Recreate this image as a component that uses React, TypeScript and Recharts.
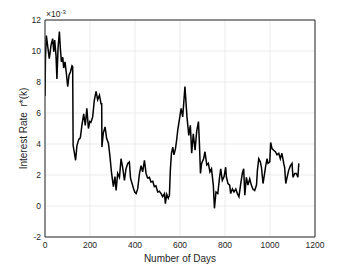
import React from "react";
import {
  LineChart,
  Line,
  XAxis,
  YAxis,
  CartesianGrid,
  ReferenceLine,
} from "recharts";

// days since start, and r*(k) in units of 1e-3
const days = [
  0, 2, 6, 13, 19, 27, 34, 39, 43, 49, 53, 58, 64, 68, 73, 79, 83, 89, 95, 101,
  107, 113, 120, 123, 125, 131, 136, 142, 150, 157, 164, 172, 179, 186, 193, 199,
  204, 212, 219, 227, 234, 242, 249, 252, 253, 259, 267, 274, 282, 289, 296, 304,
  311, 316, 323, 331, 338, 345, 353, 360, 368, 375, 380, 387, 394, 399, 405, 412,
  420, 427, 434, 442, 449, 456, 464, 471, 479, 486, 493, 501, 508, 516, 523, 531,
  535, 541, 548, 553, 557, 562, 568, 573, 580, 585, 590, 605, 612, 622, 631, 639,
  646, 652, 659, 667, 674, 682, 686, 691, 696, 705, 711, 719, 726, 733, 740, 748,
  753, 760, 768, 775, 781, 788, 796, 803, 806, 813, 821, 825, 833, 840, 848, 855,
  862, 870, 877, 883, 888, 895, 902, 910, 917, 924, 932, 940, 944, 950, 957, 962,
  969, 976, 981, 987, 991, 999, 1003, 1009, 1016, 1024, 1031, 1039, 1046, 1053,
  1061, 1065, 1070, 1076, 1083, 1091, 1098, 1102, 1110, 1117, 1124, 1128,
];

const rates = [
  7.1, 9.5, 11.0, 10.2, 9.5, 10.4, 10.8, 9.95, 10.7, 9.7, 8.2, 10.2, 11.25, 10.2,
  9.3, 9.6, 8.9, 9.3, 8.55, 7.7, 8.45, 8.65, 9.05, 9.0, 3.9, 3.4, 2.95, 3.9, 4.3,
  4.4, 5.2, 5.95, 5.2, 6.3, 5.0, 5.45, 5.4, 5.75, 6.8, 7.4, 6.85, 7.15, 6.6, 6.6,
  3.8, 4.7, 5.1, 4.35, 4.05, 3.15, 2.1, 1.25, 1.9, 1.0, 2.1, 1.85, 3.05, 2.5, 1.65,
  2.4, 2.75, 2.85, 1.8, 1.45, 1.1, 0.9, 0.8, 1.1, 2.1, 2.6, 2.2, 2.95, 2.1, 1.8,
  1.85, 1.55, 1.6, 1.25, 1.3, 0.9, 0.95, 0.8, 0.6, 0.8, 0.15, 0.75, 0.5, 0.7, 2.3,
  3.4, 3.8, 3.3, 3.7, 4.25, 4.9, 6.3, 5.75, 7.7, 5.75, 4.55, 5.2, 3.4, 4.65, 3.6,
  4.8, 5.45, 4.15, 2.1, 2.75, 3.05, 3.5, 2.65, 2.75, 2.2, 2.4, 1.35, -0.15, 0.9,
  0.8, 1.75, 2.4, 1.65, 1.9, 2.5, 1.9, 1.45, 1.35, 0.8, 1.1, 0.9, 1.1, 0.8, 0.6,
  1.45, 2.1, 2.4, 0.7, 1.85, 1.35, 1.75, 1.35, 1.1, 1.0, 1.35, 2.3, 3.05, 2.85,
  2.5, 1.45, 2.1, 2.6, 3.05, 2.75, 2.85, 4.1, 3.7, 3.6, 3.5, 3.3, 3.4, 3.05, 3.4,
  2.75, 2.5, 1.45, 1.85, 2.3, 2.6, 2.75, 1.85, 2.1, 2.1, 1.85, 2.75,
];

const xTicks = [0, 200, 400, 600, 800, 1000, 1200];
const yTicks = [-2, 0, 2, 4, 6, 8, 10, 12];

const axisColor = "#262626";
const font = "'Liberation Sans', Arial, sans-serif";

export default function App() {
  const data = days.map((d, i) => ({ day: d, rate: rates[i] }));
  const tickStyle = { fontSize: 8.5, fill: axisColor, fontFamily: font };

  return (
    <div
      style={{
        position: "absolute",
        left: 0,
        top: 0,
        width: 349,
        height: 266,
        background: "#fff",
        fontFamily: font,
      }}
    >
      <LineChart
        width={349}
        height={266}
        data={data}
        margin={{ top: 20, right: 34, bottom: 0, left: 0 }}
      >
        <CartesianGrid stroke="#e6e6e6" strokeWidth={0.8} />
        <XAxis
          dataKey="day"
          type="number"
          domain={[0, 1200]}
          ticks={xTicks}
          height={29}
          stroke={axisColor}
          tickLine={false}
          tickSize={0}
          tickMargin={5}
          tick={tickStyle}
          allowDataOverflow
          label={{
            value: "Number of Days",
            position: "insideBottom",
            offset: 4,
            style: { fontSize: 10, fill: axisColor, fontFamily: font },
          }}
        />
        <YAxis
          type="number"
          domain={[-2, 12]}
          ticks={yTicks}
          width={45}
          stroke={axisColor}
          tickLine={false}
          tickSize={0}
          tickMargin={4}
          tick={tickStyle}
          allowDataOverflow
          label={{
            value: "Interest Rate\u00a0 r*(k)",
            angle: -90,
            position: "center",
            dx: 1,
            style: { fontSize: 10, fill: axisColor, fontFamily: font, textAnchor: "middle" },
          }}
        />
        {/* box around the axes, like MATLAB's "box on" */}
        <ReferenceLine y={12} stroke={axisColor} strokeWidth={1} />
        <ReferenceLine x={1200} stroke={axisColor} strokeWidth={1} />
        <Line
          type="linear"
          dataKey="rate"
          stroke="#000"
          strokeWidth={1.5}
          dot={false}
          isAnimationActive={false}
        />
      </LineChart>
      <div
        style={{
          position: "absolute",
          left: 46,
          top: 9,
          fontSize: 8.5,
          color: axisColor,
          lineHeight: "10px",
          whiteSpace: "nowrap",
        }}
      >
        ×10
        <span style={{ fontSize: 6, position: "relative", top: -3.5 }}>-3</span>
      </div>
    </div>
  );
}
